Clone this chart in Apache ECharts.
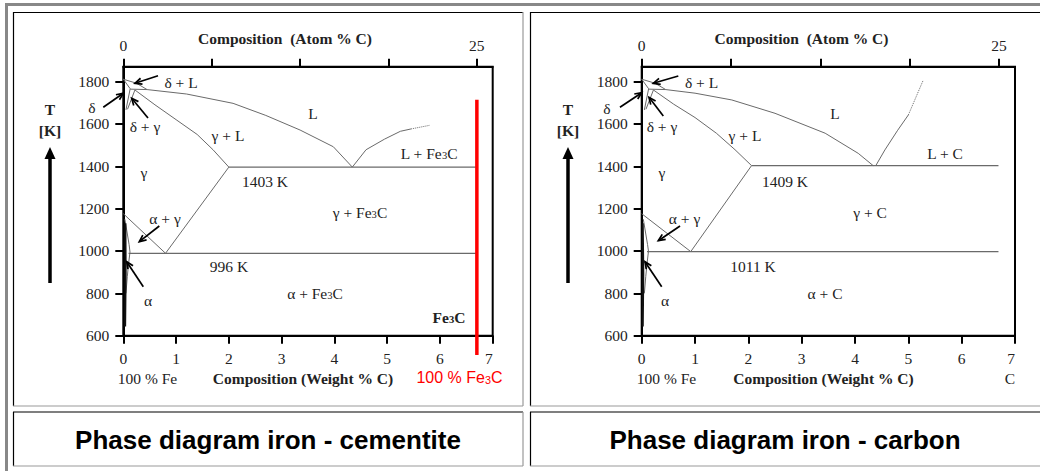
<!DOCTYPE html>
<html><head><meta charset="utf-8">
<script src="https://cdn.jsdelivr.net/npm/echarts@6/dist/echarts.min.js"></script>
<style>html,body{margin:0;padding:0;background:#fff}#c{width:1040px;height:471px}</style>
</head><body><div id="c"></div>
<script>
// ---- axis ticks ----
const weightTicks = [0, 1, 2, 3, 4, 5, 6, 7];
const tempTicks = [600, 800, 1000, 1200, 1400, 1600, 1800];
const atomTicks = [0, 6.25, 12.5, 18.75, 25];
const atomTickLabels = [0, 25];

// ---- iron - cementite (weight % C, K) ----
const cemLiquidus = [[0,1811],[0.25,1792],[0.45,1762],[1.2,1741],[2.08,1697],[2.7,1640],[3.35,1571],[3.98,1492],[4.34,1396]];
const cemDeltaSolidus = [[0,1811],[0.13,1766]];
const cemPeritectic = [[0.13,1764],[0.45,1762]];
const cemDeltaSolvus = [[0.13,1766],[0.05,1666]];
const cemGammaDelta = [[0.22,1760],[0.08,1669]];
const cemSolidus = [[0.22,1760],[0.6,1690],[1.0,1620],[1.4,1550],[1.7,1478],[2.0,1396]];
const cemAcm = [[2.0,1396],[0.8,989]];
const cemA3 = [[0,1176],[0.8,989]];
const cemEutectic = [[2.0,1396],[6.69,1396]];
const cemEutectoid = [[0.1,989],[6.69,989]];
const cemAlphaSolvus = [[0.03,1150],[0.064,1099],[0.11,1030],[0.127,995],[0.1,940],[0.076,879],[0.05,800]];
const cemAlphaEdge = [[0.04,1131],[0.045,895],[0.035,643]];
const cemFe3CLiquidus = [[4.34,1396],[4.6,1478],[4.95,1528],[5.25,1565],[5.45,1576]];
const cemFe3CLiquidusDotted = [[5.45,1576],[5.8,1593]];
const cemFe3CLine = [[6.70,1714],[6.70,509]];

// ---- iron - carbon (weight % C, K) ----
const carLiquidus = [[0,1811],[0.25,1792],[0.45,1762],[1.0,1745],[1.69,1713],[2.5,1650],[3.44,1556],[4.06,1461],[4.34,1403]];
const carDeltaSolidus = [[0,1811],[0.13,1766]];
const carPeritectic = [[0.13,1764],[0.45,1762]];
const carDeltaSolvus = [[0.13,1766],[0.05,1666]];
const carGammaDelta = [[0.22,1760],[0.08,1669]];
const carSolidus = [[0.22,1760],[0.6,1693],[1.0,1630],[1.4,1556],[1.75,1478],[2.06,1403]];
const carAcm = [[2.06,1403],[0.92,997]];
const carA3 = [[0,1176],[0.92,997]];
const carEutectic = [[2.06,1403],[6.69,1403]];
const carEutectoid = [[0.1,997],[6.69,997]];
const carAlphaSolvus = [[0.03,1150],[0.064,1099],[0.11,1030],[0.127,999],[0.1,940],[0.076,879],[0.05,800]];
const carAlphaEdge = [[0.02,1131],[0.03,895],[0.02,643]];
const carGraphiteLiquidus = [[4.39,1403],[4.56,1477],[4.8,1570],[5.0,1642]];
const carGraphiteLiquidusDotted = [[5.0,1642],[5.28,1807]];

// ---- styling helpers ----
const SERIF = '"Liberation Serif","Times New Roman",serif';
const SANS = '"Liberation Sans",Arial,sans-serif';
const GRAY = '#6a6a6a';
const FS = 15.5;

function lineSeries(data, gi, style, noClip) {
  const s = {
    type: 'line', xAxisIndex: gi * 2, yAxisIndex: gi, data: data,
    showSymbol: false, symbol: 'none', silent: true, animation: false,
    lineStyle: Object.assign({ color: GRAY, width: 1 }, style || {})
  };
  if (noClip) { s.clip = false; s.z = 5; }
  return s;
}
const plainNum = v => String(v);
function xBottom(gi) {
  return {
    type: 'value', gridIndex: gi, position: 'bottom', min: 0, max: 7, interval: 1,
    axisLine: { show: true, onZero: false, lineStyle: { color: '#000', width: 2 } },
    axisTick: { show: true, length: 8, lineStyle: { color: '#000', width: 2 }, customValues: weightTicks },
    axisLabel: { fontFamily: SERIF, fontSize: FS, color: '#222', margin: 15, customValues: weightTicks, alignMaxLabel: 'right', formatter: plainNum },
    splitLine: { show: false }
  };
}
function xTop(gi) {
  return {
    type: 'value', gridIndex: gi, position: 'top', min: 0, max: 26.12,
    axisLine: { show: true, onZero: false, lineStyle: { color: '#000', width: 2 } },
    axisTick: { show: true, length: 8, lineStyle: { color: '#000', width: 2 }, customValues: atomTicks },
    axisLabel: { fontFamily: SERIF, fontSize: FS, color: '#222', margin: 13, customValues: atomTickLabels, formatter: plainNum },
    splitLine: { show: false }
  };
}
function yLeft(gi) {
  return {
    type: 'value', gridIndex: gi, position: 'left', min: 600, max: 1870,
    axisLine: { show: true, lineStyle: { color: '#000', width: 2 } },
    axisTick: { show: true, length: 8, lineStyle: { color: '#000', width: 2 }, customValues: tempTicks },
    axisLabel: { fontFamily: SERIF, fontSize: FS, color: '#222', margin: 14, customValues: tempTicks, formatter: plainNum },
    splitLine: { show: false }
  };
}

// ---- annotation helpers (graphic) ----
function txt(x, y, text, o) {
  o = o || {};
  const size = o.size || FS, fam = o.family || SERIF, col = o.color || '#222', wt = o.weight || 'normal';
  return {
    type: 'text', x: x, y: y, z: 100, silent: true,
    style: {
      text: text, align: 'center', verticalAlign: 'middle',
      fontFamily: fam, fontSize: size, fontWeight: wt, fill: col,
      rich: { s: { fontSize: size * 0.68, fontFamily: fam, fontWeight: wt, fill: col, verticalAlign: 'bottom', lineHeight: 8 } }
    }
  };
}
function arrow(x1, y1, x2, y2) {
  const a = Math.atan2(y2 - y1, x2 - x1), L = 7.5, w = 0.42;
  return [
    { type: 'line', z: 100, silent: true, shape: { x1: x1, y1: y1, x2: x2, y2: y2 }, style: { stroke: '#000', lineWidth: 1.7 } },
    { type: 'polyline', z: 100, silent: true, shape: { points: [[x2 - L * Math.cos(a - w), y2 - L * Math.sin(a - w)], [x2, y2], [x2 - L * Math.cos(a + w), y2 - L * Math.sin(a + w)]] }, style: { stroke: '#000', lineWidth: 1.7, fill: null } }
  ];
}
function bigArrow(x, yBottom, yTip) {
  return [
    { type: 'line', z: 100, silent: true, shape: { x1: x, y1: yBottom, x2: x, y2: yTip + 10 }, style: { stroke: '#000', lineWidth: 3.5 } },
    { type: 'polygon', z: 100, silent: true, shape: { points: [[x - 5.5, yTip + 12], [x, yTip], [x + 5.5, yTip + 12]] }, style: { fill: '#000' } }
  ];
}
function hline(x1, x2, y, color, w) {
  return { type: 'line', z: 0, silent: true, shape: { x1: x1, y1: y, x2: x2, y2: y }, style: { stroke: color, lineWidth: w } };
}
function vline(x, y1, y2, color, w) {
  return { type: 'line', z: 0, silent: true, shape: { x1: x, y1: y1, x2: x, y2: y2 }, style: { stroke: color, lineWidth: w } };
}

const frame = [
  hline(5, 1040, 4.5, '#888', 3), vline(6.5, 3, 471, '#888', 3),
  hline(13, 523, 12.5, '#000', 1.2), vline(13.5, 12, 406, '#000', 1.2),
  hline(13, 523, 406, '#999', 1.2), vline(523, 12, 406, '#999', 1.2),
  hline(530, 1040, 12.5, '#000', 1.2), vline(530.5, 12, 406, '#000', 1.2),
  hline(530, 1040, 406, '#999', 1.2),
  hline(13, 523, 412, '#000', 1.2), vline(13.5, 412, 466, '#000', 1.2),
  hline(13, 523, 466, '#999', 1.2), vline(523, 412, 466, '#999', 1.2),
  hline(530, 1040, 412, '#000', 1.2), vline(530.5, 412, 466, '#000', 1.2),
  hline(530, 1040, 466, '#999', 1.2)
];

const labelsLeft = [
  txt(285, 38, 'Composition  (Atom % C)', { weight: 'bold' }),
  txt(50, 109, 'T', { weight: 'bold' }), txt(50, 130, '[K]', { weight: 'bold' }),
  txt(181, 82, 'δ + L'), txt(92, 107, 'δ'), txt(145, 126, 'δ + γ'),
  txt(313, 113, 'L'), txt(228, 135, 'γ + L'), txt(429, 153, 'L + Fe{s|3}C'),
  txt(144, 172, 'γ'), txt(265, 181, '1403 K'), txt(360, 212, 'γ + Fe{s|3}C'),
  txt(165, 218, 'α + γ'), txt(229, 266, '996 K'), txt(315, 293, 'α + Fe{s|3}C'),
  txt(148, 300, 'α'), txt(449, 317, 'Fe{s|3}C', { weight: 'bold' }),
  txt(147.5, 378, '100 % Fe'), txt(303, 378, 'Composition (Weight % C)', { weight: 'bold' }),
  txt(459.5, 377, '100 % Fe{s|3}C', { family: SANS, size: 16, color: '#ff0000' })
];
const labelsRight = [
  txt(801.5, 38, 'Composition  (Atom % C)', { weight: 'bold' }),
  txt(568, 109, 'T', { weight: 'bold' }), txt(568, 130, '[K]', { weight: 'bold' }),
  txt(701.5, 82, 'δ + L'), txt(607, 108, 'δ'), txt(662, 126, 'δ + γ'),
  txt(835, 113, 'L'), txt(745, 135, 'γ + L'), txt(945, 153, 'L + C'),
  txt(662, 172, 'γ'), txt(785, 181, '1409 K'), txt(870, 212, 'γ + C'),
  txt(684.5, 218, 'α + γ'), txt(753, 266, '1011 K'), txt(825, 293, 'α + C'),
  txt(665, 300, 'α'),
  txt(666.5, 378, '100 % Fe'), txt(823.5, 378, 'Composition (Weight % C)', { weight: 'bold' }),
  txt(1010, 378, 'C')
];
const titles = [
  txt(268, 440, 'Phase diagram iron - cementite', { family: SANS, size: 26, weight: 'bold', color: '#000' }),
  txt(785, 440, 'Phase diagram iron - carbon', { family: SANS, size: 26, weight: 'bold', color: '#000' })
];
const arrows = [].concat(
  arrow(158, 75.7, 135, 83.3), arrow(103.3, 107.3, 123.3, 93.3), arrow(148, 118, 131.7, 98.3),
  arrow(159.3, 226, 139.3, 241.7), arrow(143.3, 286.7, 126.7, 261.7),
  arrow(678.3, 76, 653.3, 83.3), arrow(620, 107.3, 641.7, 92.7), arrow(663.3, 116, 649, 97.3),
  arrow(680, 226, 658.3, 240.7), arrow(661.7, 286.7, 645, 261.7),
  bigArrow(50, 283, 147), bigArrow(568, 283, 147)
);

const option = {
  backgroundColor: '#fff',
  animation: false,
  grid: [
    { left: 123.3, top: 66.7, width: 369.4, height: 269, show: true, borderColor: '#000', borderWidth: 2, backgroundColor: 'transparent' },
    { left: 641.7, top: 66.7, width: 373.3, height: 269, show: true, borderColor: '#000', borderWidth: 2, backgroundColor: 'transparent' }
  ],
  xAxis: [xBottom(0), xTop(0), xBottom(1), xTop(1)],
  yAxis: [yLeft(0), yLeft(1)],
  series: [
    lineSeries(cemLiquidus, 0), lineSeries(cemDeltaSolidus, 0), lineSeries(cemPeritectic, 0),
    lineSeries(cemDeltaSolvus, 0), lineSeries(cemGammaDelta, 0), lineSeries(cemSolidus, 0),
    lineSeries(cemAcm, 0), lineSeries(cemA3, 0), lineSeries(cemEutectic, 0, { width: 1.2 }),
    lineSeries(cemEutectoid, 0, { width: 1.2 }), lineSeries(cemAlphaSolvus, 0),
    lineSeries(cemAlphaEdge, 0, { color: '#111', width: 2 }),
    lineSeries(cemFe3CLiquidus, 0), lineSeries(cemFe3CLiquidusDotted, 0, { type: 'dotted' }),
    lineSeries(cemFe3CLine, 0, { color: '#ff0000', width: 3.5 }, true),

    lineSeries(carLiquidus, 1), lineSeries(carDeltaSolidus, 1), lineSeries(carPeritectic, 1),
    lineSeries(carDeltaSolvus, 1), lineSeries(carGammaDelta, 1), lineSeries(carSolidus, 1),
    lineSeries(carAcm, 1), lineSeries(carA3, 1), lineSeries(carEutectic, 1, { width: 1.2 }),
    lineSeries(carEutectoid, 1, { width: 1.2 }), lineSeries(carAlphaSolvus, 1),
    lineSeries(carAlphaEdge, 1, { color: '#111', width: 2 }),
    lineSeries(carGraphiteLiquidus, 1), lineSeries(carGraphiteLiquidusDotted, 1, { type: 'dotted' })
  ],
  graphic: { elements: [].concat(frame, labelsLeft, labelsRight, titles, arrows) }
};

const chart = echarts.init(document.getElementById('c'), null, { renderer: 'svg' });
chart.setOption(option);
</script>
</body></html>
